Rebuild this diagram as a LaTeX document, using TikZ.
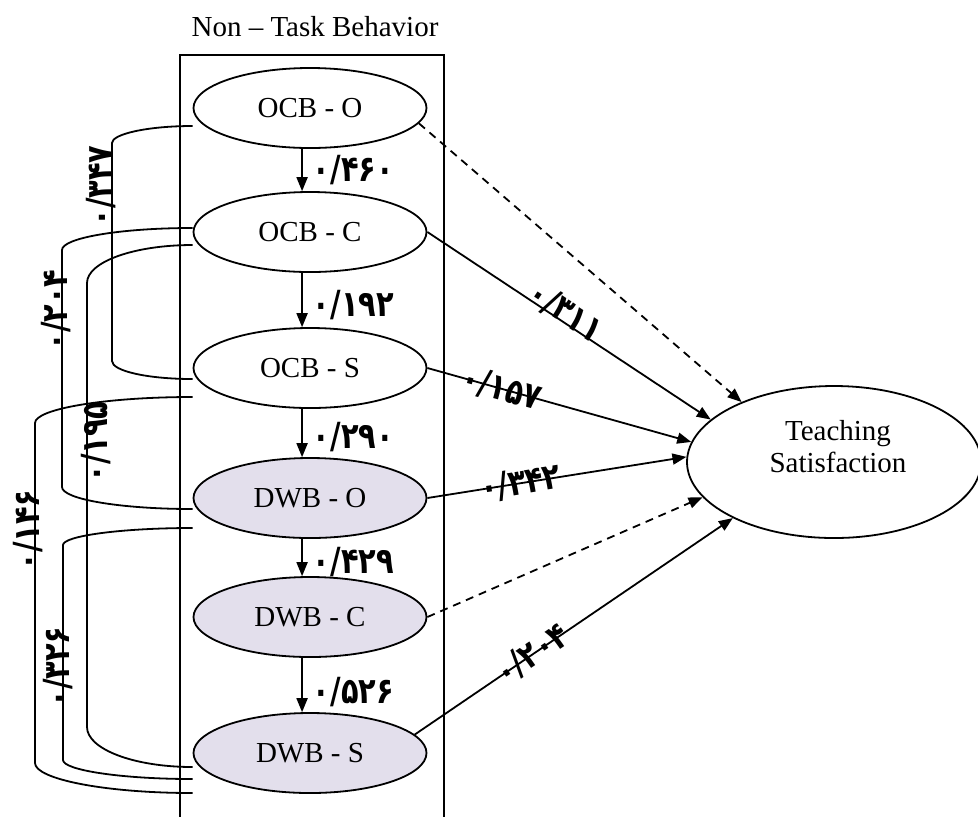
\documentclass[tikz,border=0pt]{standalone}
\usepackage{fontspec}
\setmainfont{Liberation Serif}
\newfontfamily\fanum{DejaVu Sans}[FakeStretch=0.8]
\usepackage{xcolor}
\usetikzlibrary{arrows.meta,shapes.geometric,positioning}

\definecolor{dwbfill}{RGB}{227,223,236}

\begin{document}
\begin{tikzpicture}[x=0.5pt, y=-0.5pt, >={Triangle[length=7pt,width=5.5pt]},
    every node/.style={font=\fontsize{14.5}{17}\selectfont},
    ocb/.style={draw, ellipse, line width=0.9pt, minimum width=116.5pt, minimum height=40pt, inner sep=0pt},
    dwb/.style={ocb, fill=dwbfill},
    link/.style={line width=0.9pt},
    effect/.style={->, line width=0.9pt},
    indirect/.style={effect, dash pattern=on 4pt off 3pt},
    lbl/.style={font=\fanum\bfseries\fontsize{18}{20}\selectfont, inner sep=0pt}]

        \useasboundingbox (0,0) rectangle (978,816);

        % Text Nodes (without boxes)
        \node (title) at (315,27) {Non – Task Behavior};
        \draw[link] (180,830) -- (180,55) -- (444,55) -- (444,830);

        % Behavior nodes
        \node (ocbo) [ocb] at (310,108) {OCB - O};
        \node (ocbc) [ocb] at (310,232) {OCB - C};
        \node (ocbs) [ocb] at (310,368) {OCB - S};
        \node (dwbo) [dwb] at (310,498) {DWB - O};
        \node (dwbc) [dwb] at (310,617) {DWB - C};
        \node (dwbs) [dwb] at (310,753) {DWB - S};

        \node (ts) [draw, ellipse, line width=0.9pt, minimum width=147pt, minimum height=76pt] at (834,462) {};
        \node (tstext) [align=center, font=\fontsize{14.5}{16}\selectfont] at (838,447) {Teaching\\Satisfaction};

        % Arrows inside the box
        \draw[effect] (ocbo.259) -- (ocbc.101) node[lbl, right=5pt, pos=0.5] {۰/۴۶۰};
        \draw[effect] (ocbc.259) -- (ocbs.101) node[lbl, right=5pt, pos=0.59] {۰/۱۹۲};
        \draw[effect] (ocbs.259) -- (dwbo.101) node[lbl, right=5pt, pos=0.58] {۰/۲۹۰};
        \draw[effect] (dwbo.259) -- (dwbc.101) node[lbl, right=5pt, pos=0.62] {۰/۴۲۹};
        \draw[effect] (dwbc.259) -- (dwbs.101) node[lbl, right=5pt, pos=0.62] {۰/۵۲۶};

        % Arrows to Teaching Satisfaction
        \draw[indirect] (ocbo.-8) -- (ts.147);
        \draw[effect] (ocbc.east) -- node[lbl, sloped, above=-3pt, pos=0.47] {۰/۳۱۱} (ts.161);
        \draw[effect] (ocbs.east) -- node[lbl, sloped, pos=0.28] {۰/۱۵۷} (ts.172);
        \draw[effect] (dwbo.east) -- node[lbl, sloped, pos=0.36] {۰/۳۴۲} (ts.178);
        \draw[indirect] (dwbc.east) -- (ts.195);
        \draw[effect] (dwbs.10) -- node[lbl, sloped, pos=0.37] {۰/۲۰۴} (ts.209);

        % Correlations on the left
        \coordinate (ocbo1) at ([yshift=-9pt]ocbo.west);
        \coordinate (ocbc1) at ([yshift=2pt]ocbc.west);
        \coordinate (ocbc2) at ([yshift=-6.5pt]ocbc.west);
        \coordinate (ocbs1) at ([yshift=-5.5pt]ocbs.west);
        \coordinate (ocbs2) at ([yshift=-14.5pt]ocbs.west);
        \coordinate (dwbo1) at ([yshift=-5.5pt]dwbo.west);
        \coordinate (dwbo2) at ([yshift=-15pt]dwbo.west);
        \coordinate (dwbs1) at ([yshift=-7pt]dwbs.west);
        \coordinate (dwbs2) at ([yshift=-20pt]dwbs.west);
        \coordinate (dwbs3) at ([yshift=-13pt]dwbs.west);

        \draw[link] (ocbo1) .. controls +(-45,0) and +(0,-9) .. (112,143) -- (112,361) .. controls +(0,10) and +(-45,0) .. (ocbs1);
        \draw[link] (ocbc1) .. controls +(-73,0) and +(0,-12) .. (62,250) -- (62,487) .. controls +(0,12) and +(-73,0) .. (dwbo1);
        \draw[link] (ocbc2) .. controls +(-59,0) and +(0,-21) .. (87,283) -- (87,727) .. controls +(0,22) and +(-59,0) .. (dwbs1);
        \draw[link] (ocbs2) .. controls +(-88,0) and +(0,-14) .. (35,423) -- (35,763) .. controls +(0,16) and +(-88,0) .. (dwbs2);
        \draw[link] (dwbo2) .. controls +(-72,0) and +(0,-9) .. (63,545) -- (63,760) .. controls +(0,10) and +(-72,0) .. (dwbs3);

        \node (r347) [lbl, rotate=90, anchor=south] at (116,186) {۰/۳۴۷};
        \node (r204) [lbl, rotate=90, anchor=south] at (71,310) {۰/۲۰۴};
        \node (r195) [lbl, rotate=90, anchor=south] at (111,442) {۰/۱۹۵};
        \node (r146) [lbl, rotate=90, anchor=south] at (43,530) {۰/۱۴۶};
        \node (r326) [lbl, rotate=90, anchor=south] at (73,667) {۰/۳۲۶};

\end{tikzpicture}
\end{document}
